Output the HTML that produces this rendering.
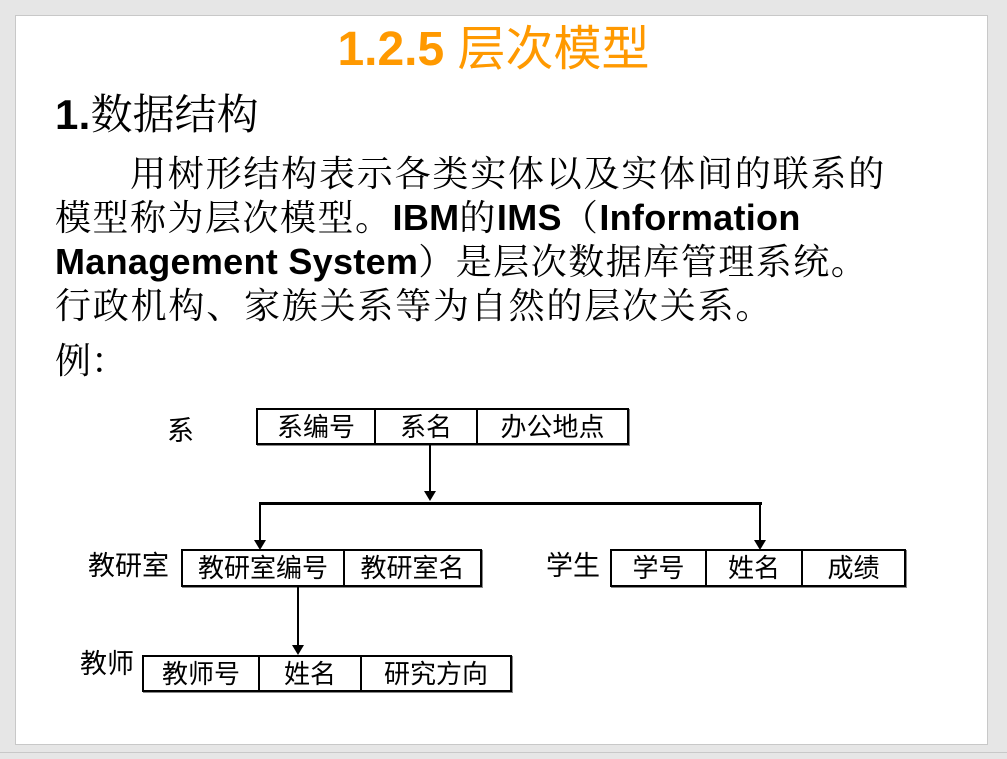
<!DOCTYPE html>
<html><head><meta charset="utf-8"><style>
html,body{margin:0;padding:0;width:1007px;height:759px;background:#e6e6e6;overflow:hidden;position:relative}
.slide{position:absolute;left:15px;top:15px;width:971px;height:728px;background:#fff;border:1px solid #c8c8c8}
.t{position:absolute;white-space:nowrap;line-height:1;color:#000}
.cj{font-family:"Liberation Sans","Noto Serif CJK SC",serif}
b{font-family:"Liberation Sans",sans-serif;font-weight:bold;letter-spacing:0.3px}
.d{font-family:"Liberation Sans","Noto Sans CJK SC",sans-serif;font-size:27px;position:absolute;white-space:nowrap;line-height:1}
.box{position:absolute;border:2px solid #000;box-sizing:border-box;display:flex;box-shadow:1px 1px 0 #888}
.box div{border-right:2px solid #000;font-family:"Liberation Sans","Noto Sans CJK SC",sans-serif;font-size:26px;text-align:center;line-height:34px;}
.box div:last-child{border-right:none}
.hr{position:absolute;background:#000}
</style></head><body>
<div class="slide"></div>
<div class="t" style="left:0;width:987px;text-align:center;top:26px;font-size:48px;color:#ff9900;font-family:'Liberation Sans','Noto Sans CJK SC',sans-serif;font-weight:bold">1.2.5 <span style="font-weight:normal">层次模型</span></div>
<div class="t cj" style="left:55px;top:94px;font-size:42px"><b>1.</b>数据结构</div>
<div class="t cj" style="left:130px;top:156px;font-size:36px;letter-spacing:1.8px">用树形结构表示各类实体以及实体间的联系的</div>
<div class="t cj" style="left:55px;top:200px;font-size:36px;letter-spacing:1.5px">模型称为层次模型。<b>IBM</b>的<b>IMS</b>（<b>Information</b></div>
<div class="t cj" style="left:55px;top:244px;font-size:36px;letter-spacing:1.5px"><b>Management System</b>）是层次数据库管理系统。</div>
<div class="t cj" style="left:55px;top:288px;font-size:36px;letter-spacing:1.8px">行政机构、家族关系等为自然的层次关系。</div>
<div class="t cj" style="left:55px;top:343px;font-size:36px">例：</div>

<div class="d" style="left:167px;top:418px">系</div>
<div class="box" style="left:256px;top:408px;width:373px;height:37px"><div style="width:116px">系编号</div><div style="width:100px">系名</div><div style="flex:1">办公地点</div></div>
<div class="hr" style="left:429px;top:445px;width:2px;height:52px"></div>
<svg style="position:absolute;left:0;top:0" width="1007" height="759">
<polygon points="424,491 436,491 430,501" fill="#000"/>
<polygon points="254,540 266,540 260,550" fill="#000"/>
<polygon points="754,540 766,540 760,550" fill="#000"/>
<polygon points="292,645 304,645 298,655" fill="#000"/>
</svg>
<div class="hr" style="left:259px;top:502px;width:503px;height:3px"></div>
<div class="hr" style="left:259px;top:502px;width:2px;height:40px"></div>
<div class="hr" style="left:759px;top:502px;width:2px;height:40px"></div>

<div class="d" style="left:88px;top:553px">教研室</div>
<div class="box" style="left:181px;top:549px;width:301px;height:38px"><div style="width:160px">教研室编号</div><div style="flex:1">教研室名</div></div>
<div class="d" style="left:546px;top:553px">学生</div>
<div class="box" style="left:610px;top:549px;width:296px;height:38px"><div style="width:93px">学号</div><div style="width:94px">姓名</div><div style="flex:1">成绩</div></div>
<div class="hr" style="left:297px;top:587px;width:2px;height:60px"></div>

<div class="d" style="left:80px;top:651px">教师</div>
<div class="box" style="left:142px;top:655px;width:370px;height:37px"><div style="width:114px">教师号</div><div style="width:100px">姓名</div><div style="flex:1">研究方向</div></div>
<div class="hr" style="left:0;top:752px;width:1007px;height:1px;background:#c8c8c8"></div>
</body></html>
